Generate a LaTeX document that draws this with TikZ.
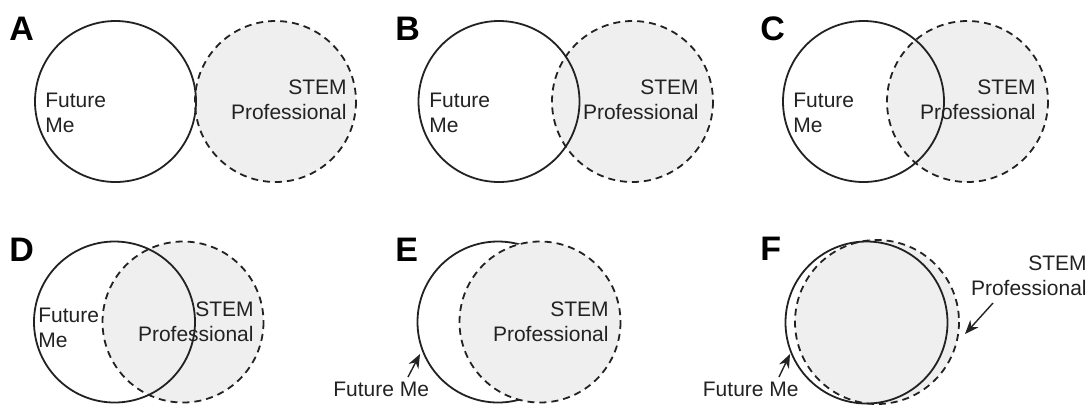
\documentclass[tikz,border=0pt]{standalone}
\usepackage{fontspec}
\setmainfont{Liberation Sans}
\usetikzlibrary{arrows.meta}
\definecolor{stemgray}{HTML}{EFEFEF}
\definecolor{ink}{HTML}{222222}

\begin{document}
\begin{tikzpicture}[x=0.5pt,y=-0.5pt,
		me/.style={draw=ink,line width=0.9pt},
		stem/.style={draw=ink,line width=0.9pt,dash pattern=on 3.5pt off 2.5pt},
		stemfill/.style={fill=stemgray},
		lbl/.style={inner sep=0pt,text=ink,font=\fontsize{10.5}{12.5}\selectfont},
		panel/.style={inner sep=0pt,anchor=base west,font=\fontsize{17}{18}\selectfont\bfseries},
		arr/.style={-{Stealth[length=7pt,width=5.5pt]},line width=0.7pt,draw=ink}]
		\useasboundingbox (0,0) rectangle (1092,404);
		% A
		\coordinate (MeA) at (115.5,101.5);
		\coordinate (StA) at (275.5,101.5);
		\fill[stemfill] (StA) circle [radius=80.5];
		\draw[me] (MeA) circle [radius=80.5];
		\draw[stem] (StA) circle [radius=80.5];
		\node[panel] (labA) at (9,40) {A};
		\node[lbl,anchor=base west,align=left] (fmA) at (45,132) {Future\\Me};
		\node[lbl,anchor=base east,align=right] (spA) at (347,119) {STEM\\Professional};
		% B
		\coordinate (MeB) at (499,101.5);
		\coordinate (StB) at (632.5,101.5);
		\fill[stemfill] (StB) circle [radius=80.5];
		\draw[me] (MeB) circle [radius=80.5];
		\draw[stem] (StB) circle [radius=80.5];
		\node[panel] (labB) at (395,40) {B};
		\node[lbl,anchor=base west,align=left] (fmB) at (429,132) {Future\\Me};
		\node[lbl,anchor=base east,align=right] (spB) at (699,119) {STEM\\Professional};
		% C
		\coordinate (MeC) at (863.5,101.5);
		\coordinate (StC) at (967.5,101.5);
		\fill[stemfill] (StC) circle [radius=80.5];
		\draw[me] (MeC) circle [radius=80.5];
		\draw[stem] (StC) circle [radius=80.5];
		\node[panel] (labC) at (760,40) {C};
		\node[lbl,anchor=base west,align=left] (fmC) at (793,132) {Future\\Me};
		\node[lbl,anchor=base east,align=right] (spC) at (1036,119) {STEM\\Professional};
		% D
		\coordinate (MeD) at (114.5,322);
		\coordinate (StD) at (183,322);
		\fill[stemfill] (StD) circle [radius=80.5];
		\draw[me] (MeD) circle [radius=80.5];
		\draw[stem] (StD) circle [radius=80.5];
		\node[panel] (labD) at (9,261) {D};
		\node[lbl,anchor=base west,align=left] (fmD) at (38,347) {Future\\Me};
		\node[lbl,anchor=base east,align=right] (spD) at (254,341) {STEM\\Professional};
		% E
		\coordinate (MeE) at (498,322);
		\coordinate (StE) at (540,322);
		\draw[me] (MeE) circle [radius=80.5];
		\fill[stemfill] (StE) circle [radius=80.5];
		\draw[stem] (StE) circle [radius=80.5];
		\node[panel] (labE) at (395,261) {E};
		\node[lbl,anchor=base east,align=right] (spE) at (609,341) {STEM\\Professional};
		\node[lbl,anchor=base west] (fmE) at (333,396) {Future Me};
		\coordinate (tE) at (408,377);
		\coordinate (hE) at (420,354);
		\draw[arr] (tE) -- (hE);
		% F
		\coordinate (MeF) at (866.5,322.5);
		\coordinate (StF) at (877,322);
		\fill[stemfill] (StF) circle [radius=82];
		\draw[me] (MeF) circle [radius=81];
		\draw[stem] (StF) circle [radius=82];
		\node[panel] (labF) at (760,260) {F};
		\node[lbl,anchor=base east,align=right] (spF) at (1087,295) {STEM\\Professional};
		\node[lbl,anchor=base east] (fmF) at (799,396) {Future Me};
		\coordinate (tF) at (779,377);
		\coordinate (hF) at (790,354);
		\draw[arr] (tF) -- (hF);
		\coordinate (tS) at (993,303);
		\coordinate (hS) at (965,334);
		\draw[arr] (tS) -- (hS);
\end{tikzpicture}
\end{document}
